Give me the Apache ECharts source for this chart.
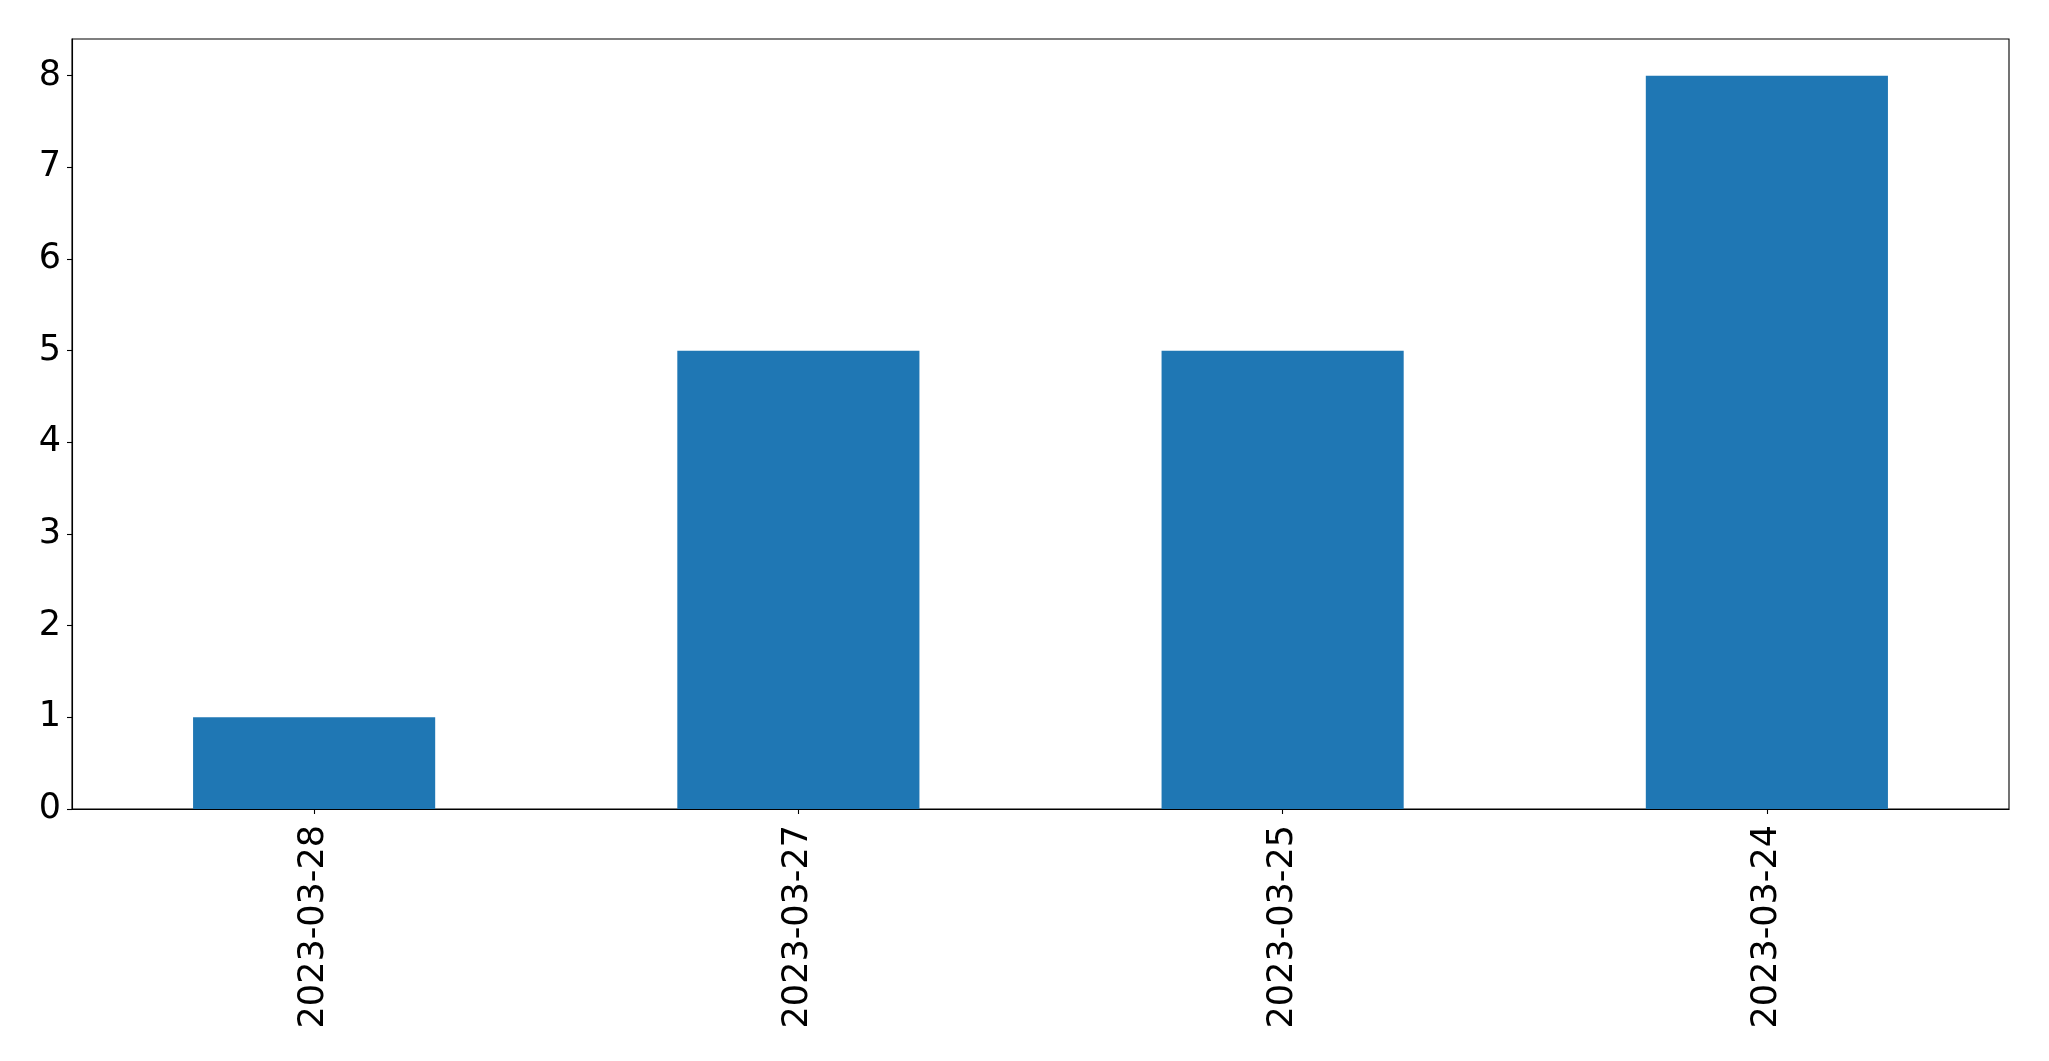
<!DOCTYPE html>
<html>
<head>
<meta charset="utf-8">
<script src="https://cdn.jsdelivr.net/npm/echarts@6/dist/echarts.min.js"></script>
<style>
html,body{margin:0;padding:0;background:#fff;}
#chart{width:2049px;height:1061px;}
</style>
</head>
<body>
<div id="chart"></div>
<script>
const categories = ['2023-03-28', '2023-03-27', '2023-03-25', '2023-03-24'];
const values = [1, 5, 5, 8];
const yTicks = [0, 1, 2, 3, 4, 5, 6, 7, 8];

const chart = echarts.init(document.getElementById('chart'), null, {renderer: 'canvas'});
chart.setOption({
  animation: false,
  backgroundColor: '#ffffff',
  grid: {
    left: 72, right: 40, top: 39, bottom: 252,
    show: true, borderColor: '#000', borderWidth: 1.1, backgroundColor: 'transparent'
  },
  xAxis: {
    type: 'category',
    data: categories,
    boundaryGap: true,
    axisLine: {show: true, lineStyle: {color: '#000', width: 1.1}},
    axisTick: {show: true, alignWithLabel: true, length: 5, lineStyle: {color: '#000', width: 1.1}},
    axisLabel: {
      rotate: 90, margin: 16, color: '#000', fontSize: 35,
      fontFamily: 'DejaVu Sans', interval: 0
    },
    splitLine: {show: false}
  },
  yAxis: {
    type: 'value',
    min: 0, max: 8.4, interval: 1,
    axisLine: {show: true, lineStyle: {color: '#000', width: 1.1}},
    axisTick: {show: true, length: 5, lineStyle: {color: '#000', width: 1.1}, customValues: yTicks},
    axisLabel: {
      color: '#000', fontSize: 35, fontFamily: 'DejaVu Sans', margin: 11,
      customValues: yTicks
    },
    splitLine: {show: false}
  },
  series: [{
    type: 'bar',
    data: values,
    barWidth: '50%',
    itemStyle: {color: '#1f77b4'}
  }]
});
</script>
</body>
</html>
